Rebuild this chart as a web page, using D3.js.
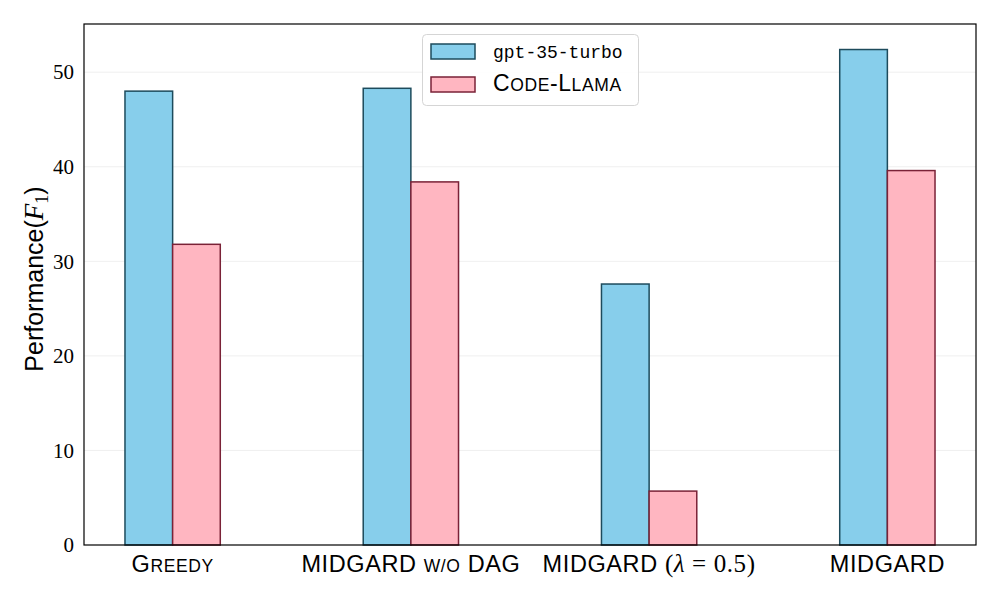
<!DOCTYPE html>
<html><head><meta charset="utf-8">
<script src="https://cdn.jsdelivr.net/npm/d3@7"></script>
<style>body{margin:0;background:#fff}</style>
</head><body>
<svg id="c" width="1000" height="600"></svg>
<script>
const categories = ["Greedy", "MIDGARD w/o DAG", "MIDGARD (λ=0.5)", "MIDGARD"];
const seriesNames = ["gpt-35-turbo", "Code-Llama"];
const gptValues = [48.0, 48.3, 27.6, 52.4];
const llamaValues = [31.8, 38.4, 5.7, 39.6];
const yTicks = [0, 10, 20, 30, 40, 50];

const fills = ["#87CEEB", "#FFB6C1"];
const strokes = ["#1d4b5c", "#7a2237"];
const svg = d3.select("#c");
const L = 84, R = 976, T = 24, B = 545;
const x = d3.scaleLinear().domain([-0.372, 3.372]).range([L, R]);
const y = d3.scaleLinear().domain([0, 55.1]).range([B, T]);
const bw = 0.2;
const serif = "'Liberation Serif', 'DejaVu Serif', serif";
const sans = "'Liberation Sans', Arial, sans-serif";

// grid
svg.append("g").selectAll("line").data(yTicks.slice(1)).join("line")
  .attr("x1", L).attr("x2", R).attr("y1", d => y(d)).attr("y2", d => y(d))
  .attr("stroke", "#ebebeb").attr("stroke-width", 0.8);

// bars
const series = [gptValues, llamaValues];
series.forEach((vals, s) => {
  svg.append("g").selectAll("rect").data(vals).join("rect")
    .attr("x", (d, i) => x(i + (s === 0 ? -bw : 0)))
    .attr("width", x(bw) - x(0))
    .attr("y", d => y(d))
    .attr("height", d => y(0) - y(d))
    .attr("fill", fills[s]).attr("stroke", strokes[s]).attr("stroke-width", 1.5);
});

// frame
svg.append("rect").attr("x", L).attr("y", T).attr("width", R - L).attr("height", B - T)
  .attr("fill", "none").attr("stroke", "#000").attr("stroke-width", 1.2);

// y axis
const yAxis = d3.axisLeft(y).tickValues(yTicks).tickSize(0).tickPadding(10);
const ga = svg.append("g").attr("transform", `translate(${L},0)`).call(yAxis);
ga.select(".domain").remove();
ga.selectAll("text").attr("font-family", serif).attr("font-size", 21).attr("fill", "#000");

// y label
const yl = svg.append("text").attr("transform", "translate(43,279) rotate(-90)")
  .attr("text-anchor", "middle").attr("font-family", sans).attr("font-size", 25).attr("fill", "#000");
yl.append("tspan").text("Performance(");
yl.append("tspan").attr("font-family", serif).attr("font-style", "italic").attr("font-size", 27).text("F");
yl.append("tspan").attr("font-family", serif).attr("font-size", 18).attr("dy", 5).text("1");
yl.append("tspan").attr("dy", -5).text(")");

// x labels with small caps
const big = 23.5, small = 17.5;
function smallCaps(t, text) {
  text.forEach(([s, sm, fam, style, fs]) => {
    t.append("tspan").attr("font-size", fs || (sm ? small : big))
      .attr("font-family", fam || sans).attr("font-style", style || "normal").text(s);
  });
}
const xl = svg.append("g").selectAll("text").data(categories).join("text")
  .attr("x", (d, i) => x(i)).attr("y", 572).attr("text-anchor", "middle").attr("fill", "#000")
  .attr("letter-spacing", 0.6);
xl.each(function(d, i) {
  const t = d3.select(this);
  if (i === 0) smallCaps(t, [["G", false], ["REEDY", true]]);
  else if (i === 1) smallCaps(t, [["MIDGARD ", false], ["W/O", true], [" DAG", false]]);
  else if (i === 2) smallCaps(t, [["MIDGARD ", false], ["(", false, serif, "normal", 25], ["λ", false, serif, "italic", 25], [" = 0.5)", false, serif, "normal", 25]]);
  else smallCaps(t, [["MIDGARD", false]]);
});

// legend
const lg = svg.append("g");
lg.append("rect").attr("x", 422.5).attr("y", 34.5).attr("width", 216).attr("height", 71).attr("rx", 4)
  .attr("fill", "#fff").attr("fill-opacity", 0.85).attr("stroke", "#d5d5d5").attr("stroke-width", 1);
seriesNames.forEach((n, s) => {
  const yy = 44 + s * 33;
  lg.append("rect").attr("x", 431).attr("y", yy).attr("width", 44).attr("height", 15)
    .attr("fill", fills[s]).attr("stroke", strokes[s]).attr("stroke-width", 1.5);
  const t = lg.append("text").attr("x", 493).attr("y", yy + 14).attr("fill", "#000");
  if (s === 0) {
    t.attr("font-family", "'Liberation Mono', 'DejaVu Sans Mono', monospace").attr("font-size", 18).text(n);
  } else {
    t.attr("font-family", sans).attr("letter-spacing", 0.6);
    [["C", false], ["ODE", true], ["-L", false], ["LAMA", true]].forEach(([str, sm]) => {
      t.append("tspan").attr("font-size", sm ? 17.5 : 23).text(str);
    });
  }
});
</script>
</body></html>
